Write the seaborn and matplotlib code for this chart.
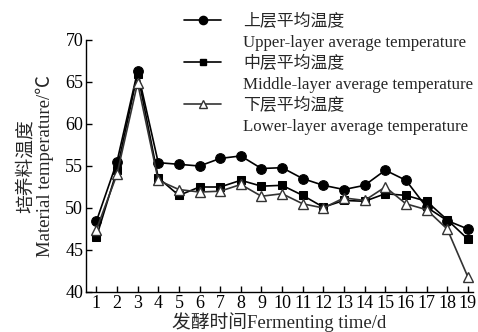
import pandas as pd
import matplotlib.pyplot as plt
import seaborn as sns
from matplotlib.lines import Line2D

# data
days = list(range(1, 20))
upper = [48.4, 55.5, 66.3, 55.4, 55.2, 55.0, 55.9, 56.2, 54.7, 54.8, 53.5, 52.7, 52.2, 52.7, 54.5, 53.3, 50.1, 48.5, 47.5]
middle = [46.5, 54.5, 66.0, 53.6, 51.5, 52.5, 52.5, 53.3, 52.6, 52.7, 51.5, 50.1, 50.9, 50.8, 51.7, 51.5, 50.8, 48.6, 46.3]
lower = [47.4, 54.0, 64.9, 53.3, 52.2, 51.9, 52.0, 52.8, 51.4, 51.7, 50.5, 50.0, 51.2, 50.9, 52.5, 50.5, 49.8, 47.5, 41.8]

labels_cn = ['上层平均温度', '中层平均温度', '下层平均温度']
labels_en = ['Upper-layer average temperature', 'Middle-layer average temperature', 'Lower-layer average temperature']

df = pd.DataFrame({'day': days, 'upper': upper, 'middle': middle, 'lower': lower})

sns.set_style('ticks')
plt.rcParams['font.family'] = ['Liberation Serif', 'Noto Sans CJK SC']
plt.rcParams['font.size'] = 12

fig = plt.figure(figsize=(4.78, 3.32), dpi=100)
ax = fig.add_axes([86/478, 40/332, 387/478, 252/332])

# Upper layer: filled circles
sns.lineplot(data=df, x='day', y='upper', ax=ax, color='black', lw=1.2,
             marker='o', markersize=7, markeredgecolor='black', markerfacecolor='black')
# Middle layer: filled squares
sns.lineplot(data=df, x='day', y='middle', ax=ax, color='black', lw=1.2,
             marker='s', markersize=5.5, markeredgecolor='black', markerfacecolor='black')
# Lower layer: open triangles
sns.lineplot(data=df, x='day', y='lower', ax=ax, color='#333333', lw=1.2,
             marker='^', markersize=6.5, markeredgecolor='#333333', markerfacecolor='white', markeredgewidth=1.0)

ax.set_xlim(0.5, 19.25)
ax.set_ylim(40, 70)
ax.set_xticks(days)
ax.set_yticks(range(40, 71, 5))
ax.tick_params(direction='in', length=4, width=1, labelsize=13, pad=2, colors='black')
ax.xaxis.set_tick_params(pad=2)
sns.despine(ax=ax)
for s in ['left', 'bottom']:
    ax.spines[s].set_linewidth(1.0)
    ax.spines[s].set_color('black')

ax.set_xlabel('发酵时间Fermenting time/d', fontsize=13.5, labelpad=0)
ax.set_ylabel('培养料温度\nMaterial temperature/℃', fontsize=13.5, labelpad=8, linespacing=1.1)

# legend: Chinese line with marker, English line below without
handles = []
labs = []
for line, cn, en in zip(ax.lines, labels_cn, labels_en):
    h = Line2D([], [], color=line.get_color(), lw=1.2, marker=line.get_marker(),
               markersize=line.get_markersize() * 0.85, markerfacecolor=line.get_markerfacecolor(),
               markeredgecolor=line.get_markeredgecolor())
    handles += [h, Line2D([], [], linestyle='none')]
    labs += [cn, en]
fig.legend(handles, labs, loc='upper left', bbox_to_anchor=(172/478, 0.995), frameon=False,
           fontsize=12.2, handlelength=2.2, handletextpad=1.3, labelspacing=0.3, borderpad=0.2)

fig.savefig('out.png', dpi=100)
